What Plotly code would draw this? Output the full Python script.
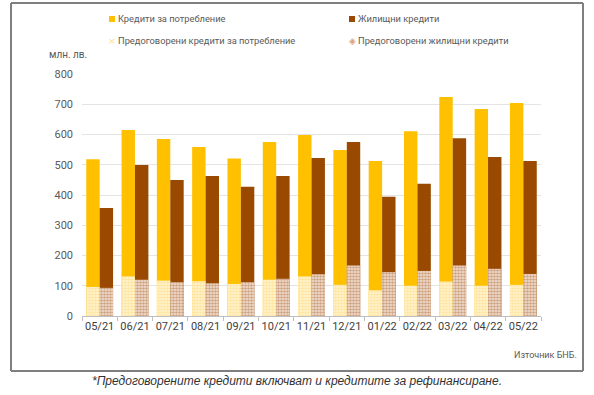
import plotly.graph_objects as go

months = ["05/21", "06/21", "07/21", "08/21", "09/21", "10/21", "11/21",
          "12/21", "01/22", "02/22", "03/22", "04/22", "05/22"]
consumer = [518, 615, 585, 559, 521, 575, 598, 549, 512, 611, 724, 684, 704]
housing = [357, 499, 450, 463, 427, 463, 522, 575, 394, 437, 588, 526, 512]
consumer_refin = [96, 131, 117, 115, 106, 120, 131, 103, 85, 100, 114, 100, 103]
housing_refin = [93, 120, 112, 108, 112, 123, 138, 167, 145, 149, 167, 156, 139]

labels = ["Кредити за потребление", "Жилищни кредити",
          "Предоговорени кредити за потребление", "Предоговорени жилищни кредити"]

YELLOW = "#FFC000"
BROWN = "#9A4A00"

W, H = 594, 395
# plot area in page pixels
L, R, T, B = 82, 541, 74, 316


def px(x):
    return (x - L) / (R - L)


def py(y):
    return (B - y) / (B - T)


fig = go.Figure()
bw = 0.38
fig.add_trace(go.Bar(x=months, y=consumer, offset=-bw, width=bw,
                     marker=dict(color=YELLOW, line=dict(width=0)), showlegend=False))
fig.add_trace(go.Bar(x=months, y=housing, offset=0, width=bw,
                     marker=dict(color=BROWN, line=dict(width=0)), showlegend=False))
fig.add_trace(go.Bar(x=months, y=consumer_refin, offset=-bw, width=bw,
                     marker=dict(color="#FFF1C4", line=dict(width=0),
                                 pattern=dict(shape=".", fgcolor="#FFD56A", bgcolor="#FFF4D6",
                                              size=3, solidity=0.6)),
                     showlegend=False))
fig.add_trace(go.Bar(x=months, y=housing_refin, offset=0, width=bw,
                     marker=dict(color="#C8946A", line=dict(width=0),
                                 pattern=dict(shape=".", fgcolor="#A95F2A", bgcolor="#F4E6DA",
                                              size=3, solidity=0.6)),
                     showlegend=False))

FX0, FX1, FY0, FY1 = 11, 583, 3, 371
frame = dict(color="#7F7F7F", width=2)
shapes = [
    dict(type="line", xref="paper", yref="paper", x0=px(FX0), x1=px(FX1), y0=py(FY0), y1=py(FY0), line=frame),
    dict(type="line", xref="paper", yref="paper", x0=px(FX0), x1=px(FX1), y0=py(FY1), y1=py(FY1), line=frame),
    dict(type="line", xref="paper", yref="paper", x0=px(FX0), x1=px(FX0), y0=py(FY0), y1=py(FY1), line=frame),
    dict(type="line", xref="paper", yref="paper", x0=px(FX1), x1=px(FX1), y0=py(FY0), y1=py(FY1), line=frame),
]

annotations = []
# custom legend
leg = [(112, 19, YELLOW, labels[0], "sq"), (352, 19, BROWN, labels[1], "sq"),
       (112, 41, "#FFE08A", labels[2], "x"), (352, 41, "#D9A27A", labels[3], "d")]
for x, y, c, t, kind in leg:
    if kind == "sq":
        shapes.append(dict(type="rect", xref="paper", yref="paper",
                           x0=px(x - 3), x1=px(x + 3), y0=py(y + 3), y1=py(y - 3),
                           fillcolor=c, line=dict(width=0)))
    else:
        annotations.append(dict(x=px(x), y=py(y), xref="paper", yref="paper",
                                text=("×" if kind == "x" else "◈"),
                                showarrow=False, font=dict(size=9, color=c, family="DejaVu Sans"),
                                xanchor="center", yanchor="middle"))
    annotations.append(dict(x=px(x + 4), y=py(y), xref="paper", yref="paper", text=t,
                            showarrow=False, font=dict(size=9.3, color="#595959", family="Roboto"),
                            xanchor="left", yanchor="middle"))

annotations.append(dict(x=px(47), y=py(55), xref="paper", yref="paper", text="млн. лв.",
                        showarrow=False, font=dict(size=10, color="#595959", family="Roboto"),
                        xanchor="left", yanchor="middle"))
annotations.append(dict(x=px(579), y=py(355), xref="paper", yref="paper", text="Източник БНБ.",
                        showarrow=False, font=dict(size=9, color="#595959", family="Roboto"),
                        xanchor="right", yanchor="middle"))
annotations.append(dict(x=px(297), y=py(381), xref="paper", yref="paper",
                        text="<i>*Предоговорените кредити включват и кредитите за рефинансиране.</i>",
                        showarrow=False, font=dict(size=12, color="#333333", family="Liberation Sans"),
                        xanchor="center", yanchor="middle"))

fig.update_layout(
    width=W, height=H,
    margin=dict(l=L, r=W - R, t=T, b=H - B, pad=0, autoexpand=False),
    barmode="overlay",
    plot_bgcolor="white", paper_bgcolor="white",
    shapes=shapes, annotations=annotations,
    font=dict(family="Roboto", color="#595959"),
)
fig.update_xaxes(showgrid=False, showline=True, linecolor="#BFBFBF", linewidth=1,
                 ticks="outside", tickson="boundaries", ticklen=4, tickcolor="#BFBFBF",
                 tickangle=0, automargin=False,
                 tickfont=dict(size=11, color="#404040", family="Roboto"))
fig.update_yaxes(range=[0, 800], dtick=100, showgrid=True, gridcolor="#E4E4E4", gridwidth=1,
                 zeroline=False, showline=False, ticks="", ticklabelstandoff=8, automargin=False,
                 tickfont=dict(size=11, color="#595959", family="Roboto"))

fig.write_html("out.html", config={"displayModeBar": False},
               post_script="document.body.style.margin='0';document.body.style.overflow='hidden';")
